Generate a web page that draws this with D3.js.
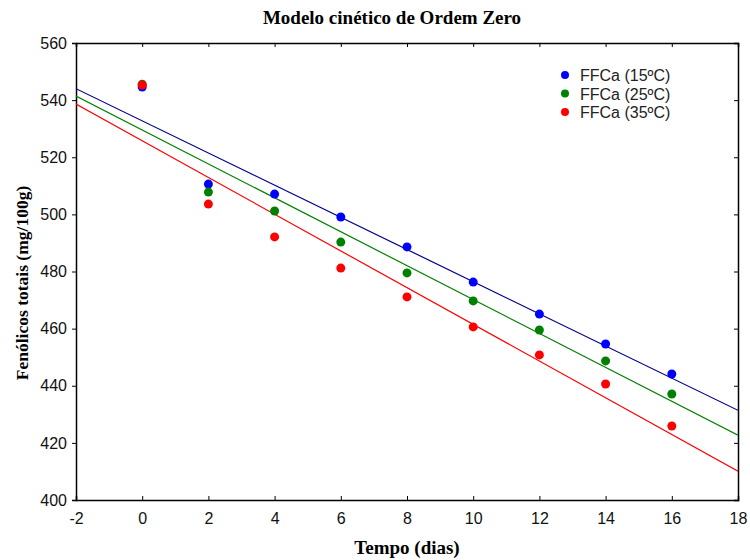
<!DOCTYPE html>
<html>
<head>
<meta charset="utf-8">
<script src="https://cdn.jsdelivr.net/npm/d3@7"></script>
<style>
  body { margin: 0; background: #fff; }
  .tick text { font-family: "Liberation Sans", Arial, sans-serif; font-size: 16px; fill: #111; }
  .serif { font-family: "Liberation Serif", "Times New Roman", serif; font-weight: bold; }
</style>
</head>
<body>
<div id="chart"></div>
<script>
// data
var tempo = [0, 2, 4, 6, 8, 10, 12, 14, 16];
var ffca15 = [544.6, 510.6, 507.1, 499.1, 488.6, 476.3, 465.1, 454.6, 444.1];
var ffca25 = [545.6, 507.8, 501.2, 490.3, 479.5, 469.7, 459.5, 448.7, 437.1];
var ffca35 = [545.3, 503.6, 492.1, 481.2, 471.1, 460.6, 450.8, 440.6, 425.9];
// fitted lines, value at x = -2 and x = 18
var fitX = [-2, 18];
var fit15 = [544.0, 431.4];
var fit25 = [541.4, 422.7];
var fit35 = [538.6, 410.1];
var seriesNames = ["FFCa (15ºC)", "FFCa (25ºC)", "FFCa (35ºC)"];
var pointColors = ["#0000ff", "#008000", "#ff0000"];
var lineColors = ["#00008b", "#008000", "#ff0000"];
var xTicks = [-2, 0, 2, 4, 6, 8, 10, 12, 14, 16, 18];
var yTicks = [400, 420, 440, 460, 480, 500, 520, 540, 560];

var W = 750, H = 560;
var margin = {top: 43, right: 12, bottom: 60, left: 76};
var width = W - margin.left - margin.right;
var height = H - margin.top - margin.bottom;

var svg = d3.select("#chart").append("svg")
    .attr("width", W).attr("height", H);

var g = svg.append("g")
    .attr("transform", "translate(" + margin.left + "," + margin.top + ")");

var x = d3.scaleLinear().domain([-2, 18]).range([0, width]);
var y = d3.scaleLinear().domain([400, 560]).range([height, 0]);

svg.append("defs").append("clipPath").attr("id", "plotclip")
  .append("rect").attr("width", width).attr("height", height);

var fmt = function(d) { return String(d); }; // plain hyphen for -2

// axes
var xAxis = d3.axisBottom(x).tickValues(xTicks).tickSize(-4).tickPadding(13).tickFormat(fmt);
var yAxis = d3.axisLeft(y).tickValues(yTicks).tickSize(4).tickPadding(5).tickFormat(fmt);

g.append("g").attr("class", "x axis")
  .attr("transform", "translate(0," + height + ")")
  .call(xAxis);
g.append("g").attr("class", "y axis").call(yAxis);

// top & right mirror axes, ticks pointing in
g.append("g").call(d3.axisTop(x).tickValues(xTicks).tickSize(-4).tickFormat(""));
g.append("g").attr("transform", "translate(" + width + ",0)")
  .call(d3.axisRight(y).tickValues(yTicks).tickSize(-4).tickFormat(""));

g.selectAll(".domain").attr("stroke", "#000").attr("stroke-width", 1.5);
g.selectAll(".tick line").attr("stroke", "#000");

// fit lines
var fits = [fit15, fit25, fit35];
var line = d3.line()
  .x(function(d) { return x(d[0]); })
  .y(function(d) { return y(d[1]); });

g.append("g").attr("clip-path", "url(#plotclip)")
  .selectAll("path.fit")
  .data(fits)
  .enter().append("path")
    .attr("class", "fit")
    .attr("fill", "none")
    .attr("stroke-width", 1.2)
    .attr("stroke", function(d, i) { return lineColors[i]; })
    .attr("d", function(d) { return line(fitX.map(function(xv, j) { return [xv, d[j]]; })); });

// points
var series = [ffca15, ffca25, ffca35];
series.forEach(function(vals, i) {
  g.selectAll("circle.s" + i)
    .data(vals)
    .enter().append("circle")
      .attr("class", "s" + i)
      .attr("cx", function(d, j) { return x(tempo[j]); })
      .attr("cy", function(d) { return y(d); })
      .attr("r", 4.5)
      .attr("fill", pointColors[i]);
});

// legend
var legend = svg.append("g").attr("transform", "translate(565,75)");
seriesNames.forEach(function(name, i) {
  legend.append("circle")
    .attr("cx", 0).attr("cy", i * 18.5)
    .attr("r", 4).attr("fill", pointColors[i]);
  legend.append("text")
    .attr("x", 15).attr("y", i * 18.5 + 6)
    .attr("font-family", "Liberation Sans, Arial, sans-serif")
    .attr("font-size", 16).attr("fill", "#222")
    .text(name);
});

// titles
svg.append("text").attr("class", "serif")
  .attr("x", 392).attr("y", 24)
  .attr("text-anchor", "middle").attr("font-size", 19)
  .text("Modelo cinético de Ordem Zero");

svg.append("text").attr("class", "serif")
  .attr("x", margin.left + width / 2).attr("y", 554)
  .attr("text-anchor", "middle").attr("font-size", 19)
  .text("Tempo (dias)");

svg.append("text").attr("class", "serif")
  .attr("transform", "translate(28,283) rotate(-90)")
  .attr("text-anchor", "middle").attr("font-size", 17.5)
  .text("Fenólicos totais (mg/100g)");
</script>
</body>
</html>
